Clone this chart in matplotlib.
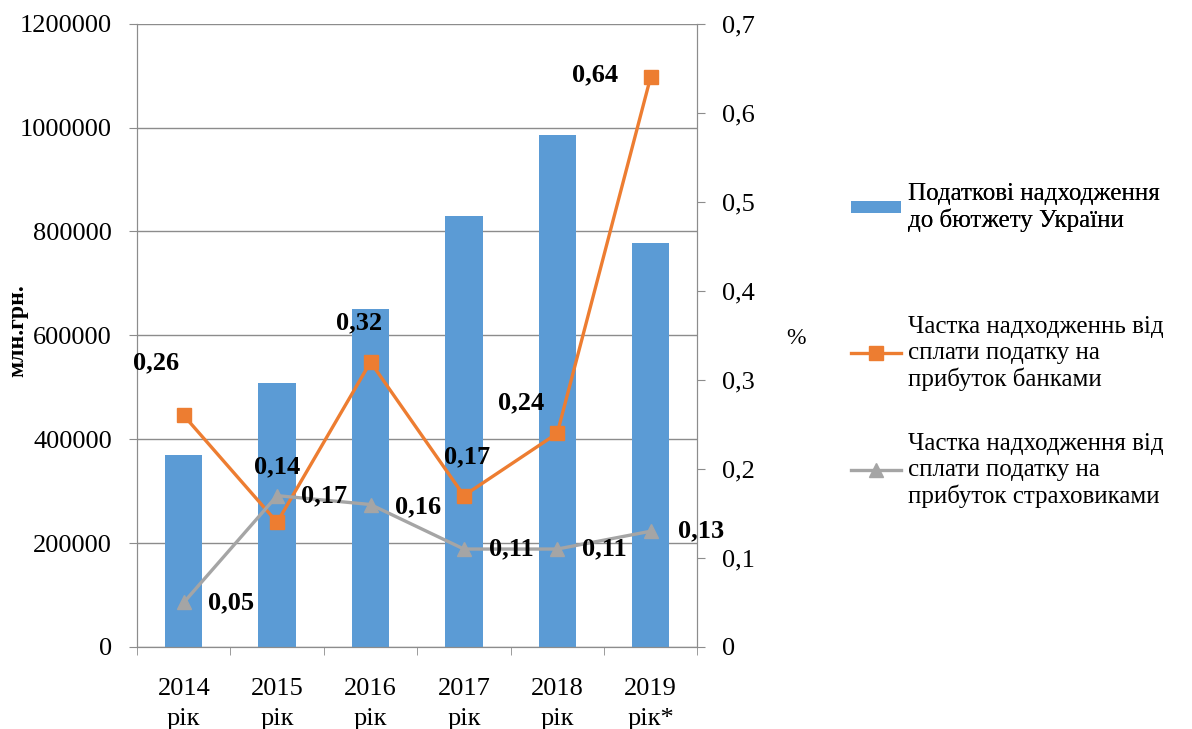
import numpy as np
import matplotlib.pyplot as plt
from matplotlib.lines import Line2D
from matplotlib.patches import Patch
from matplotlib.ticker import FuncFormatter

plt.rcParams['font.family'] = ['Liberation Serif', 'DejaVu Serif']

# Дані
roky = ['2014\nрік', '2015\nрік', '2016\nрік', '2017\nрік', '2018\nрік', '2019\nрік*']
podatkovi = [370000, 508000, 650000, 829000, 986000, 777000]
banky = [0.26, 0.14, 0.32, 0.17, 0.24, 0.64]
strakhovyky = [0.05, 0.17, 0.16, 0.11, 0.11, 0.13]

banky_txt = ['0,26', '0,14', '0,32', '0,17', '0,24', '0,64']
strakh_txt = ['0,05', '0,17', '0,16', '0,11', '0,11', '0,13']

label1 = 'Податкові надходження\nдо бютжету України'
label2 = 'Частка надходженнь від\nсплати податку на\nприбуток банками'
label3 = 'Частка надходження від\nсплати податку на\nприбуток страховиками'

blue = '#5B9BD5'
orange = '#ED7D31'
gray = '#A5A5A5'
axc = '#8C8C8C'

fig = plt.figure(figsize=(11.92, 7.29), dpi=100)
ax = fig.add_axes([0.115, 0.1125, 0.47, 0.855])
ax2 = ax.twinx()

x = np.arange(len(roky))
ax.bar(x, podatkovi, width=0.4, color=blue, zorder=2)
ax.set_ylim(0, 1200000)
ax.set_xlim(-0.5, len(roky) - 0.5)
ax.set_yticks(np.arange(0, 1200001, 200000))
ax.yaxis.set_major_formatter(FuncFormatter(lambda v, p: '%d' % v))
ax.yaxis.grid(True, color=axc, linewidth=1)
ax.set_axisbelow(True)
ax.set_xticks(x)
ax.set_xticklabels(roky, fontsize=19, linespacing=1.5)
ax.set_xticks(np.arange(-0.5, len(roky), 1), minor=True)
ax.tick_params(axis='x', which='major', length=0, pad=22)
ax.tick_params(axis='x', which='minor', length=6, color=axc)
ax.tick_params(axis='y', labelsize=19, length=6, color=axc, pad=12)

ax2.plot(x, banky, color=orange, linewidth=2.4, marker='s', markersize=10, zorder=3)
ax2.plot(x, strakhovyky, color=gray, linewidth=2.4, marker='^', markersize=10, zorder=3)
ax2.set_ylim(0, 0.7)
ax2.set_yticks(np.arange(0, 0.71, 0.1))
ax2.set_yticklabels(['0'] + ['0,%d' % i for i in range(1, 8)])
ax2.tick_params(axis='y', labelsize=19, length=6, color=axc, pad=12)

for a in (ax, ax2):
    a.spines['top'].set_visible(False)
    for s in ('left', 'right', 'bottom'):
        a.spines[s].set_color(axc)

# Підписи даних
off_b = [(-20, 38), (0, 40), (-8, 28), (2, 28), (-26, 22), (-40, 2)]
for i, t in enumerate(banky_txt):
    ax2.annotate(t, (x[i], banky[i]), xytext=off_b[i], textcoords='offset points',
                 ha='center', va='center', fontsize=19, fontweight='bold', zorder=5)
off_s = [(34, 0), (34, 0), (34, -2), (34, 0), (34, 0), (36, 0)]
for i, t in enumerate(strakh_txt):
    ax2.annotate(t, (x[i], strakhovyky[i]), xytext=off_s[i], textcoords='offset points',
                 ha='center', va='center', fontsize=19, fontweight='bold', zorder=5)

fig.text(0.015, 0.547, 'млн.грн.', rotation=90, fontsize=17, fontweight='bold',
         ha='center', va='center')
fig.text(0.668, 0.535, '%', fontsize=17, ha='center', va='center')

h1 = Patch(facecolor=blue, edgecolor='none')
h2 = Line2D([], [], color=orange, linewidth=2.4, marker='s', markersize=10)
h3 = Line2D([], [], color=gray, linewidth=2.4, marker='^', markersize=10)

leg1 = fig.legend([h1], [label1], loc='upper left', bbox_to_anchor=(0.695, 0.78),
                  frameon=False, fontsize=18, handlelength=2.0, handleheight=0.4,
                  handletextpad=0.3)
fig.add_artist(leg1)
fig.legend([h2, h3], [label2, label3], loc='upper left', bbox_to_anchor=(0.695, 0.597),
           frameon=False, fontsize=18, handlelength=2.0, handletextpad=0.3,
           labelspacing=1.7)

plt.savefig('out.png', dpi=100)
